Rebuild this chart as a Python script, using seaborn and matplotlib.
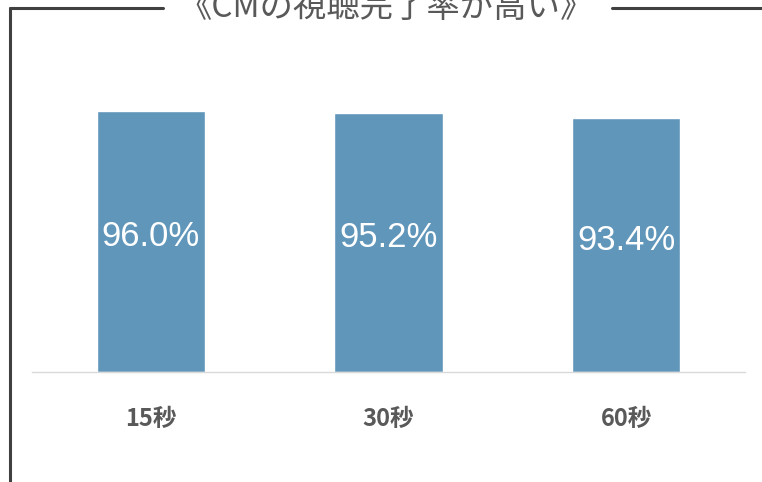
import matplotlib
matplotlib.use("Agg")
import matplotlib.pyplot as plt
from matplotlib.lines import Line2D
import pandas as pd
import seaborn as sns

# values
categories = ["15秒", "30秒", "60秒"]
completion_rate = [96.0, 95.2, 93.4]
title = "《CMの視聴完了率が高い》"

df = pd.DataFrame({"length": categories, "rate": completion_rate})

sns.set_style("white")
plt.rcParams['font.family'] = ['Noto Sans CJK JP', 'DejaVu Sans']

W, H = 762, 482
fig = plt.figure(figsize=(W / 100, H / 100), dpi=100)
ax = fig.add_axes([32 / W, 1 - 372 / H, (745 - 32) / W, (372 - 100) / H])

sns.barplot(data=df, x="length", y="rate", color="#6096ba", saturation=1,
            width=0.455, ax=ax)
ax.set_xlim(-0.5, 2.5)
ax.set_ylim(0, 100)

# value labels, a little above the bar middle like the original
for i, v in enumerate(completion_rate):
    ax.text(i, v / 2 + 1.8, f"{v:.1f}%", ha="center", va="center",
            color="white", fontsize=25,
            family=["Liberation Sans", "DejaVu Sans"])

ax.set_xlabel("")
ax.set_ylabel("")
ax.set_yticks([])
ax.tick_params(axis="x", length=0, pad=25, labelsize=17, labelcolor="#595959")
for lbl in ax.get_xticklabels():
    lbl.set_fontweight("bold")
for s in ["top", "right", "left"]:
    ax.spines[s].set_visible(False)
ax.spines["bottom"].set_color("#d9d9d9")
ax.spines["bottom"].set_linewidth(1)

# frame around the chart with the title sitting in the top border
frame_kw = dict(color="#404040", linewidth=2.2, transform=fig.transFigure)
y_top = 1 - 8 / H
fig.add_artist(Line2D([10 / W, 163 / W], [y_top, y_top], **frame_kw))
fig.add_artist(Line2D([612 / W, 1.0], [y_top, y_top], **frame_kw))
fig.add_artist(Line2D([10 / W, 10 / W], [0, y_top], **frame_kw))
fig.text(386 / W, 1 - 8 / H, title, ha="center", va="center",
         fontsize=24, color="#595959")

fig.savefig("out.png", dpi=100)
